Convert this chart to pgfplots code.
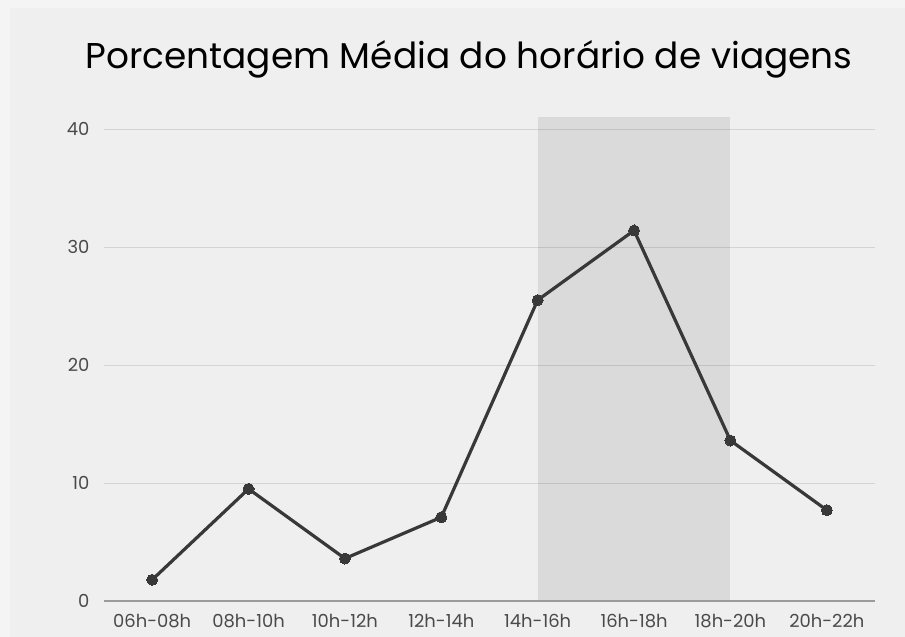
\documentclass[border=0pt]{standalone}
\usepackage{pgfplots}
\pgfplotsset{compat=1.18}
\usepackage{fontspec}
\setmainfont{Poppins}
\definecolor{bgout}{HTML}{F4F4F4}
\definecolor{bgin}{HTML}{EFEFEF}
\definecolor{gridc}{HTML}{D4D4D4}
\definecolor{basec}{HTML}{9A9A9A}
\definecolor{tickc}{HTML}{4A4A4A}
\definecolor{linec}{HTML}{383838}
\pgfplotstableread{
x y
0 1.8
1 9.5
2 3.6
3 7.1
4 25.5
5 31.4
6 13.6
7 7.7
}\datatable
\begin{document}
\begin{tikzpicture}
\fill[bgout] (0,0) rectangle (905bp,637bp);
\fill[bgin] (10bp,0) rectangle (905bp,629bp);
\node[anchor=base, font=\fontsize{36}{40}\selectfont, text=black] at (469bp,568bp) {Porcentagem Média do horário de viagens};
\begin{axis}[
  at={(104bp,36bp)}, anchor=south west,
  scale only axis, width=771bp, height=483.8bp,
  xmin=-0.5, xmax=7.5, ymin=0, ymax=41,
  axis line style={draw=none},
  major tick length=0pt,
  ytick={0,10,20,30,40},
  xtick={0,1,2,3,4,5,6,7},
  xticklabels={06h-08h,08h-10h,10h-12h,12h-14h,14h-16h,16h-18h,18h-20h,20h-22h},
  ymajorgrids,
  grid style={color=gridc, line width=0.8pt},
  tick label style={text=tickc, font=\fontsize{18}{21}\selectfont},
  /pgf/number format/assume math mode=true,
  yticklabel style={xshift=-11bp},
  xticklabel style={yshift=-10bp},
  clip=false,
]
\addplot[fill=black, fill opacity=0.088, draw=none] coordinates {(4,0) (6,0) (6,41) (4,41)} -- cycle;
\addplot[basec, line width=1.2pt] coordinates {(-0.5,0) (7.5,0)};
\addplot[linec, line width=3.2bp, mark=*, mark size=5.5bp, mark options={fill=linec, draw=linec, line width=0pt}] table[x=x,y=y] {\datatable};
\end{axis}
\end{tikzpicture}
\end{document}
